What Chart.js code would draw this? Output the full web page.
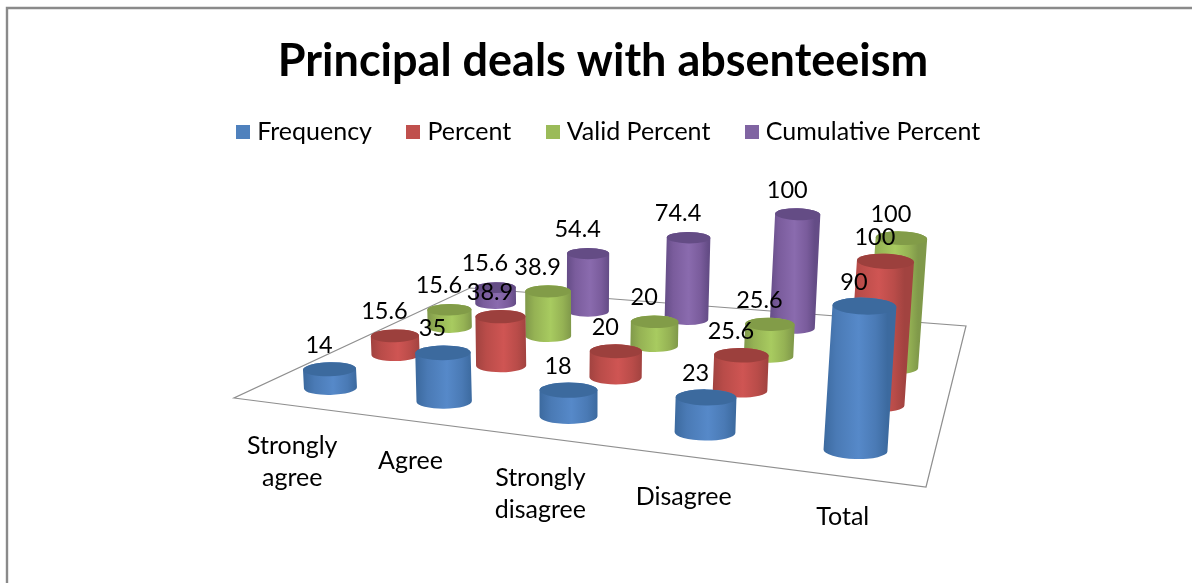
<!DOCTYPE html>
<html>
<head>
<meta charset="utf-8">
<style>html,body{margin:0;padding:0;background:#fff}canvas{display:block}</style>
<script src="https://cdn.jsdelivr.net/npm/chart.js@4"></script>
</head>
<body>
<canvas id="c" width="1192" height="583"></canvas>
<script>
const categories = [['Strongly','agree'],'Agree',['Strongly','disagree'],'Disagree','Total'];
const frequency = [14, 35, 18, 23, 90];
const percent = [15.6, 38.9, 20, 25.6, 100];
const validPercent = [15.6, 38.9, 20, 25.6, 100];
const cumulativePercent = [15.6, 54.4, 74.4, 100, null];
const seriesNames = ['Frequency','Percent','Valid Percent','Cumulative Percent'];

const FONT = 'Lato';
const swatch = ['#4F81BD','#C0504D','#9BBB59','#8064A2'];
const shades = [
  {edge:'#3c6a9f',mid:'#4a7ab5',light:'#5689c9',top:'#3c6a9e'},
  {edge:'#a24340',mid:'#b94c49',light:'#cf5553',top:'#9c403d'},
  {edge:'#80994a',mid:'#95b254',light:'#a8cb60',top:'#829c48'},
  {edge:'#644c86',mid:'#7a5c9c',light:'#8a6bae',top:'#644c85'}
];
// floor quadrilateral of the 3D box, in canvas pixels: front-left, front-right, back-right, back-left
const FLOOR = [[234,398],[926,487],[966,326],[470,288]];
const PX_PER_UNIT = 1.37, RADIUS = 27.3, FLATTEN = 0.265;

function makeProjection(q){
  const [[x0,y0],[x1,y1],[x2,y2],[x3,y3]] = q;
  const dx1=x1-x2,dx2=x3-x2,sx=x0-x1+x2-x3,dy1=y1-y2,dy2=y3-y2,sy=y0-y1+y2-y3;
  const den=dx1*dy2-dx2*dy1;
  const g=(sx*dy2-dx2*sy)/den,h=(dx1*sy-sx*dy1)/den;
  const a=x1-x0+g*x1,b=x3-x0+h*x3,d=y1-y0+g*y1,e=y3-y0+h*y3;
  return (u,v)=>{const w=g*u+h*v+1;return {x:(a*u+b*v+x0)/w,y:(d*u+e*v+y0)/w,s:1/w};};
}
const project = makeProjection(FLOOR);

function cylinderGeom(chart, seriesIdx, i, value){
  const xs=chart.scales.x, ys=chart.scales.y;
  const u=(xs.getPixelForValue(i)-xs.left)/xs.width;
  const v=(seriesIdx+0.5)/chart.data.datasets.length;
  const p=project(u,v);
  const h=(ys.getPixelForValue(0)-ys.getPixelForValue(value))/ys.height*100*PX_PER_UNIT*p.s;
  const tilt=(p.x-560)/4700;
  const bx=p.x+3.5, by=p.y+2;
  return {bx,by,tx:bx+tilt*h,ty:by-h,rx:RADIUS*p.s,ry:RADIUS*p.s*FLATTEN,rot:Math.atan(tilt)*0.5};
}
function drawCylinder(ctx,c,col){
  const grad=ctx.createLinearGradient(c.bx-c.rx,0,c.bx+c.rx,0);
  grad.addColorStop(0,col.edge);grad.addColorStop(.2,col.mid);grad.addColorStop(.55,col.light);
  grad.addColorStop(.82,col.mid);grad.addColorStop(1,col.edge);
  ctx.beginPath();
  ctx.ellipse(c.bx,c.by,c.rx,c.ry,c.rot,Math.PI,0,true);
  ctx.lineTo(c.tx+c.rx*Math.cos(c.rot),c.ty+c.rx*Math.sin(c.rot));
  ctx.ellipse(c.tx,c.ty,c.rx,c.ry,c.rot,0,Math.PI,true);
  ctx.closePath();
  ctx.fillStyle=grad;ctx.fill();
  ctx.beginPath();
  ctx.ellipse(c.tx,c.ty,c.rx,c.ry,c.rot,0,Math.PI*2);
  ctx.fillStyle=col.top;ctx.fill();
}
function swatchImage(color){
  const cv=document.createElement('canvas');cv.width=14;cv.height=14;
  const g=cv.getContext('2d');g.fillStyle=color;g.fillRect(0,0,14,14);
  return cv;
}
const swatchImages=swatch.map(swatchImage);
const cylinders={
  id:'cylinders',
  afterLayout(chart){ chart.legend.left+=16; chart.legend.top-=10; },
  beforeDraw(chart){
    const ctx=chart.ctx;ctx.save();
    ctx.strokeStyle='#8a8a8a';ctx.lineWidth=2.4;
    ctx.beginPath();ctx.moveTo(7,583);ctx.lineTo(7,8);ctx.lineTo(1192,8);ctx.stroke();
    ctx.strokeStyle='#8f8f8f';ctx.lineWidth=1.2;
    ctx.beginPath();FLOOR.forEach((p,i)=>i?ctx.lineTo(p[0],p[1]):ctx.moveTo(p[0],p[1]));ctx.closePath();ctx.stroke();
    ctx.restore();
  },
  beforeDatasetDraw(chart,args){
    const ctx=chart.ctx,ds=chart.data.datasets[args.index];
    ctx.save();
    ds.data.forEach((val,i)=>{
      if(val==null)return;
      drawCylinder(ctx,cylinderGeom(chart,args.index,i,val),shades[args.index]);
    });
    ctx.restore();
    return false;
  },
  afterDatasetsDraw(chart){
    const ctx=chart.ctx;ctx.save();
    ctx.fillStyle='#000';ctx.textAlign='center';ctx.textBaseline='middle';
    ctx.font='23.5px '+FONT;
    chart.data.datasets.forEach((ds,k)=>ds.data.forEach((val,i)=>{
      if(val==null)return;
      const c=cylinderGeom(chart,k,i,val);
      ctx.fillText(String(val),c.tx-10.5,c.ty-24);
    }));
    ctx.font='25px '+FONT;
    const xs=chart.scales.x;
    chart.data.labels.forEach((lab,i)=>{
      const p=project((xs.getPixelForValue(i)-xs.left)/xs.width,0);
      [].concat(lab).forEach((line,n)=>ctx.fillText(line,p.x+3,p.y+41+n*32));
    });
    ctx.restore();
  }
};
const seriesValues=[frequency,percent,validPercent,cumulativePercent];
new Chart(document.getElementById('c'),{
  type:'bar',
  data:{labels:categories,datasets:seriesNames.map((n,k)=>({label:n,data:seriesValues[k],backgroundColor:swatch[k],borderWidth:0}))},
  plugins:[cylinders],
  options:{
    responsive:false,animation:false,
    layout:{padding:{left:14,right:0,top:28,bottom:0}},
    scales:{x:{display:false,grid:{display:false}},y:{display:false,min:0,max:100,grid:{display:false}}},
    plugins:{
      title:{display:true,text:'Principal deals with absenteeism',color:'#000',font:{family:FONT,size:45,weight:'bold'},padding:{top:6,bottom:1}},
      legend:{display:true,position:'top',labels:{
        color:'#000',usePointStyle:true,boxWidth:3,boxHeight:14,padding:40,font:{family:FONT,size:25},
        generateLabels:chart=>chart.data.datasets.map((d,i)=>({text:d.label,fontColor:'#000',fillStyle:swatch[i],strokeStyle:swatch[i],lineWidth:0,hidden:false,datasetIndex:i,pointStyle:swatchImages[i]}))
      }},
      tooltip:{enabled:false}
    }
  }
});
</script>
</body>
</html>
